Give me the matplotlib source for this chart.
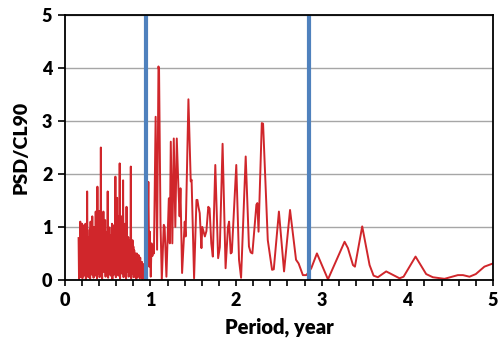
import matplotlib

matplotlib.use("Agg")
import matplotlib.pyplot as plt
from matplotlib.ticker import MultipleLocator

plt.rcParams["font.family"] = ["Lato", "DejaVu Sans"]

# ── Dense short-period part (crest / trough pairs) ─────────────────────
crest_period = [
    0.16, 0.17, 0.18, 0.19, 0.20, 0.21, 0.22, 0.23, 0.24, 0.25,
    0.26, 0.27, 0.28, 0.29, 0.30, 0.31, 0.32, 0.33, 0.34, 0.35,
    0.36, 0.37, 0.38, 0.39, 0.40, 0.41, 0.42, 0.43, 0.44, 0.45,
    0.46, 0.47, 0.48, 0.49, 0.50, 0.51, 0.52, 0.53, 0.54, 0.55,
    0.56, 0.57, 0.58, 0.59, 0.60, 0.61, 0.62, 0.63, 0.64, 0.65,
    0.66, 0.67, 0.68, 0.69, 0.70, 0.71, 0.72, 0.73, 0.74, 0.75,
    0.76, 0.77, 0.78, 0.79, 0.80, 0.81, 0.82, 0.83, 0.84, 0.85,
    0.86, 0.87, 0.88, 0.89, 0.90, 0.91, 0.92, 0.93, 0.94,
]
crest_value = [
    0.79, 0.60, 1.10, 0.75, 1.06, 0.70, 1.03, 0.65, 1.06, 0.80,
    1.67, 0.70, 0.81, 0.95, 1.10, 0.85, 1.20, 0.75, 1.00, 0.90,
    1.29, 1.10, 1.76, 0.95, 1.30, 0.85, 2.50, 1.05, 0.90, 1.29,
    0.80, 1.13, 0.90, 0.85, 1.67, 0.95, 0.99, 0.70, 0.85, 1.06,
    0.80, 1.03, 0.90, 1.95, 1.00, 1.55, 0.90, 1.20, 2.20, 1.00,
    1.20, 0.95, 1.88, 0.90, 1.06, 0.80, 1.38, 0.70, 0.81, 0.65,
    0.75, 2.14, 0.60, 0.75, 0.63, 0.56, 0.50, 0.45, 0.50, 0.42,
    0.47, 0.35, 0.42, 0.30, 0.34, 0.28, 0.30, 0.20, 0.18,
]
trough_period = [
    0.165, 0.175, 0.185, 0.195, 0.205, 0.215, 0.225, 0.235, 0.245, 0.255,
    0.265, 0.275, 0.285, 0.295, 0.305, 0.315, 0.325, 0.335, 0.345, 0.355,
    0.365, 0.375, 0.385, 0.395, 0.405, 0.415, 0.425, 0.435, 0.445, 0.455,
    0.465, 0.475, 0.485, 0.495, 0.505, 0.515, 0.525, 0.535, 0.545, 0.555,
    0.565, 0.575, 0.585, 0.595, 0.605, 0.615, 0.625, 0.635, 0.645, 0.655,
    0.665, 0.675, 0.685, 0.695, 0.705, 0.715, 0.725, 0.735, 0.745, 0.755,
    0.765, 0.775, 0.785, 0.795, 0.805, 0.815, 0.825, 0.835, 0.845, 0.855,
    0.865, 0.875, 0.885, 0.895, 0.905, 0.915, 0.925, 0.935, 0.945,
]
trough_value = [
    0.02, 0.10, 0.05, 0.20, 0.03, 0.15, 0.08, 0.25, 0.01, 0.12,
    0.30, 0.05, 0.18, 0.02, 0.22, 0.10, 0.35, 0.04, 0.20, 0.08,
    0.30, 0.03, 0.25, 0.12, 0.05, 0.28, 0.10, 0.02, 0.20, 0.15,
    0.33, 0.06, 0.18, 0.25, 0.04, 0.30, 0.12, 0.08, 0.22, 0.02,
    0.35, 0.10, 0.26, 0.05, 0.15, 0.30, 0.08, 0.20, 0.03, 0.28,
    0.12, 0.18, 0.05, 0.25, 0.10, 0.02, 0.20, 0.15, 0.06, 0.22,
    0.10, 0.03, 0.18, 0.12, 0.05, 0.15, 0.08, 0.02, 0.12, 0.06,
    0.10, 0.03, 0.08, 0.05, 0.02, 0.06, 0.03, 0.04, 0.02,
]

# ── Longer periods, read point by point ────────────────────────────────
long_period = [
    0.950, 0.962, 0.975, 0.985, 0.992, 1.003, 1.012, 1.022, 1.030, 1.040,
    1.060, 1.077, 1.093, 1.100, 1.117, 1.132, 1.155, 1.165, 1.186, 1.214,
    1.225, 1.237, 1.255, 1.272, 1.290, 1.307, 1.327, 1.340, 1.350, 1.369,
    1.400, 1.410, 1.443, 1.470, 1.480, 1.509, 1.537, 1.548, 1.560, 1.575,
    1.595, 1.605, 1.620, 1.635, 1.653, 1.675, 1.690, 1.710, 1.728, 1.757,
    1.790, 1.810, 1.842, 1.877, 1.905, 1.918, 1.937, 1.950, 2.002, 2.034,
    2.058, 2.112, 2.150, 2.170, 2.190, 2.237, 2.248, 2.262, 2.300, 2.315,
    2.370, 2.420, 2.440, 2.500, 2.560, 2.630, 2.700, 2.730, 2.780, 2.820,
    2.840, 2.878, 2.944, 3.073, 3.267, 3.306, 3.365, 3.388, 3.473, 3.559,
    3.606, 3.656, 3.753, 3.909, 3.956, 4.096, 4.220, 4.298, 4.434, 4.590,
    4.650, 4.726, 4.800, 4.900, 5.000,
]
long_value = [
    0.05, 0.35, 1.85, 0.25, 0.91, 0.06, 0.69, 0.45, 0.63, 0.50,
    3.08, 0.57, 4.03, 3.96, 1.07, 0.00, 1.04, 1.00, 0.06, 1.54,
    0.69, 2.61, 0.69, 2.67, 1.00, 2.67, 1.70, 1.20, 1.73, 0.13,
    1.10, 0.82, 3.41, 1.86, 1.89, 0.03, 1.51, 1.51, 1.38, 1.26,
    0.60, 1.00, 0.91, 0.82, 0.92, 1.38, 1.35, 0.69, 0.44, 2.17,
    0.41, 0.62, 2.57, 0.22, 1.00, 1.10, 0.50, 0.52, 2.17, 0.38,
    0.04, 2.33, 0.63, 0.52, 0.50, 1.42, 1.45, 0.91, 2.96, 2.95,
    0.75, 0.19, 0.20, 1.29, 0.16, 1.32, 0.38, 0.31, 0.09, 0.09,
    0.13, 0.22, 0.50, 0.01, 0.72, 0.60, 0.28, 0.25, 1.01, 0.28,
    0.08, 0.05, 0.16, 0.03, 0.06, 0.44, 0.11, 0.05, 0.02, 0.09,
    0.09, 0.06, 0.11, 0.25, 0.31,
]

# annual and ~2.85-yr markers
marker_periods = [0.95, 2.85]

period = []
psd = []
for p_c, v_c, p_t, v_t in zip(crest_period, crest_value, trough_period, trough_value):
    period += [p_c, p_t]
    psd += [v_c, v_t]
period += long_period
psd += long_value

fig = plt.figure(figsize=(5.03, 3.43), dpi=100)
ax = fig.add_axes([0.129, 0.184, 0.851, 0.772])

ax.grid(True, axis="y", color="#a6a6a6", linewidth=1.0, zorder=0)
ax.plot(period, psd, color="#d0262b", linewidth=1.4, zorder=2)
for mp in marker_periods:
    ax.axvline(mp, color="#4f81bd", linewidth=3.0, zorder=3)

ax.set_xlim(0, 5)
ax.set_ylim(0, 5)
ax.xaxis.set_major_locator(MultipleLocator(1))
ax.xaxis.set_minor_locator(MultipleLocator(0.2))
ax.yaxis.set_major_locator(MultipleLocator(1))
ax.tick_params(axis="x", which="both", direction="out", length=4, width=1.2)
ax.tick_params(axis="y", which="major", direction="out", length=5, width=1.2)
ax.tick_params(axis="x", labelsize=13, pad=5)
ax.tick_params(axis="y", labelsize=13, pad=4)
for lbl in ax.get_xticklabels() + ax.get_yticklabels():
    lbl.set_fontweight("heavy")
for s in ax.spines.values():
    s.set_linewidth(1.3)
    s.set_zorder(4)

ax.set_xlabel("Period, year", fontsize=14.5, fontweight="heavy", labelpad=6)
ax.set_ylabel("PSD/CL90", fontsize=14, fontweight="heavy", labelpad=9)

plt.savefig("out.png", dpi=100)
plt.close()
